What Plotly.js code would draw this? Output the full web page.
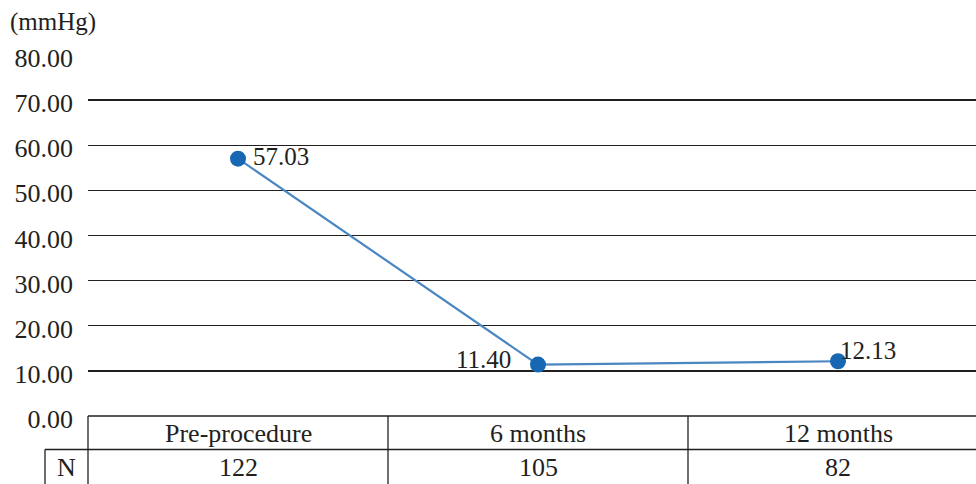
<!DOCTYPE html>
<html>
<head>
<meta charset="utf-8">
<script src="https://cdn.plot.ly/plotly-3.0.1.min.js"></script>
<style>
  html, body { margin: 0; padding: 0; background: #ffffff; }
  #chart { width: 976px; height: 484px; }
</style>
</head>
<body>
<div id="chart"></div>
<script>
const categories = ["Pre-procedure", "6 months", "12 months"];
const values = [57.03, 11.40, 12.13];
const nCounts = [122, 105, 82];
const unitLabel = "(mmHg)";
const nLabel = "N";

const FONT = "Liberation Serif, Times New Roman, serif";
const INK = "#231f20";
const FS = 26;

const W = 976, H = 484;
const M = {l: 88, r: 0, t: 55, b: 68};
const plotW = W - M.l - M.r, plotH = H - M.t - M.b;
const catSpan = 2.96;           // visible category span (plot is cropped on the right)
const xr = [-0.5, -0.5 + catSpan];
const px2paperX = p => (p - M.l) / plotW;
const px2paperY = p => (H - M.b - p) / plotH;
const cat2paperX = c => (c - xr[0]) / catSpan;

const row1Bottom = px2paperY(449.5);
const tableBottom = px2paperY(486);
const nCellLeft = px2paperX(45);

const lineStyle = {color: INK, width: 1.3};
const shapes = [
  {type: "line", xref: "paper", yref: "paper", x0: 0, x1: 1, y0: 0, y1: 0, line: lineStyle},
  {type: "line", xref: "paper", yref: "paper", x0: nCellLeft, x1: 1, y0: row1Bottom, y1: row1Bottom, line: lineStyle},
  {type: "line", xref: "paper", yref: "paper", x0: 0, x1: 0, y0: 0, y1: tableBottom, line: lineStyle},
  {type: "line", xref: "paper", yref: "paper", x0: nCellLeft, x1: nCellLeft, y0: row1Bottom, y1: tableBottom, line: lineStyle}
];
for (let i = 0; i < categories.length - 1; i++) {
  const xp = cat2paperX(i + 0.5);
  shapes.push({type: "line", xref: "paper", yref: "paper", x0: xp, x1: xp, y0: 0, y1: tableBottom, line: lineStyle});
}

const annotations = [];
annotations.push({text: unitLabel, xref: "paper", yref: "paper", x: px2paperX(8), y: px2paperY(22),
  xanchor: "left", yanchor: "middle", showarrow: false, font: {family: FONT, size: FS - 1, color: INK}});
annotations.push({text: nLabel, xref: "paper", yref: "paper", x: px2paperX(66.5), y: px2paperY(467),
  xanchor: "center", yanchor: "middle", showarrow: false, font: {family: FONT, size: FS, color: INK}});
categories.forEach((c, i) => {
  annotations.push({text: c, xref: "x", yref: "paper", x: i, y: px2paperY(433),
    xanchor: "center", yanchor: "middle", showarrow: false, font: {family: FONT, size: FS, color: INK}});
  annotations.push({text: String(nCounts[i]), xref: "x", yref: "paper", x: i, y: px2paperY(467),
    xanchor: "center", yanchor: "middle", showarrow: false, font: {family: FONT, size: FS, color: INK}});
});
const labelPlace = [
  {xanchor: "left", xshift: 13, yshift: 2},
  {xanchor: "right", xshift: -25, yshift: 5},
  {xanchor: "left", xshift: 0, yshift: 11}
];
values.forEach((v, i) => {
  annotations.push(Object.assign({text: v.toFixed(2), xref: "x", yref: "y", x: i, y: v,
    yanchor: "middle", showarrow: false, font: {family: FONT, size: FS - 1, color: INK}}, labelPlace[i]));
});

const trace = {
  type: "scatter", mode: "lines+markers",
  x: categories.map((c, i) => i), y: values,
  line: {color: "#4a86c2", width: 2.2},
  marker: {color: "#1767b3", size: 16},
  hoverinfo: "skip", cliponaxis: false
};

const layout = {
  width: W, height: H,
  margin: M,
  paper_bgcolor: "#ffffff", plot_bgcolor: "#ffffff",
  showlegend: false,
  font: {family: FONT, size: FS, color: INK},
  xaxis: {range: xr, showgrid: false, zeroline: false, showline: false, showticklabels: false, ticks: "", fixedrange: true},
  yaxis: {range: [0, 80], dtick: 10, tick0: 0, tickformat: ".2f", showgrid: true, gridcolor: INK, gridwidth: 1.3,
    zeroline: false, showline: false, ticks: "", ticklabelstandoff: 14, ticklabelshift: 3,
    tickfont: {family: FONT, size: FS, color: INK}, fixedrange: true},
  shapes: shapes,
  annotations: annotations
};

Plotly.newPlot("chart", [trace], layout, {displayModeBar: false, staticPlot: true});
</script>
</body>
</html>
